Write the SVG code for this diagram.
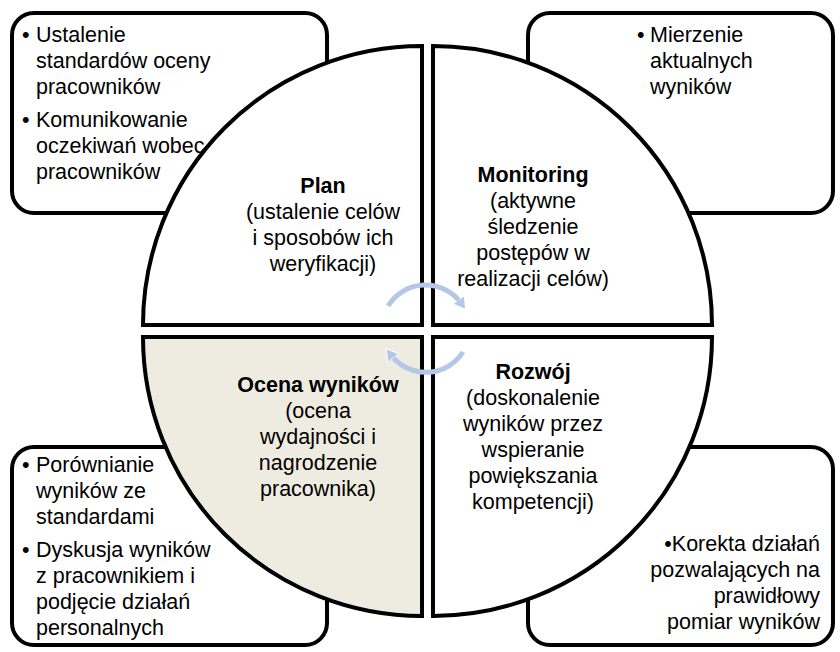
<svg xmlns="http://www.w3.org/2000/svg" width="840" height="652" viewBox="0 0 840 652">
<style>
.box{fill:#fff;stroke:#000;stroke-width:4}
.q{fill:#fff;stroke:#000;stroke-width:4;stroke-linejoin:miter}
.t{font-family:"Liberation Sans",Arial,sans-serif;font-size:21.5px;fill:#000}
.b{font-weight:bold}
.c{text-anchor:middle}
.e{text-anchor:end}
.arr{fill:none;stroke:#b4c7e7;stroke-width:5}
</style>
<defs>
<marker id="ah" markerUnits="userSpaceOnUse" markerWidth="16" markerHeight="16" refX="4" refY="8" orient="auto">
<path d="M0,1 L12,8 L0,15 Z" fill="#b4c7e7" stroke="#fff" stroke-width="1"/>
</marker>
</defs>
<rect width="840" height="652" fill="#fff"/>
<g id="box-tl">
<rect class="box" x="12" y="13" width="315" height="200" rx="22"/>
<text class="t" x="22" y="42">•</text>
<text class="t" x="36" y="42">Ustalenie</text>
<text class="t" x="36" y="68">standardów oceny</text>
<text class="t" x="36" y="94">pracowników</text>
<text class="t" x="22" y="127">•</text>
<text class="t" x="36" y="127">Komunikowanie</text>
<text class="t" x="36" y="153">oczekiwań wobec</text>
<text class="t" x="36" y="179">pracowników</text>
</g>
<g id="box-tr">
<rect class="box" x="528" y="13" width="305" height="200" rx="22"/>
<text class="t" x="637" y="42">•</text>
<text class="t" x="650" y="42">Mierzenie</text>
<text class="t" x="650" y="68">aktualnych</text>
<text class="t" x="650" y="94">wyników</text>
</g>
<g id="box-bl">
<rect class="box" x="12" y="447" width="315" height="198" rx="22"/>
<text class="t" x="22" y="472">•</text>
<text class="t" x="36" y="472">Porównianie</text>
<text class="t" x="36" y="498">wyników ze</text>
<text class="t" x="36" y="524">standardami</text>
<text class="t" x="22" y="557">•</text>
<text class="t" x="36" y="557">Dyskusja wyników</text>
<text class="t" x="36" y="583">z pracownikiem i</text>
<text class="t" x="36" y="609">podjęcie działań</text>
<text class="t" x="36" y="635">personalnych</text>
</g>
<g id="box-br">
<rect class="box" x="528" y="447" width="305" height="198" rx="22"/>
<text class="t e" x="820" y="551">•Korekta działań</text>
<text class="t e" x="820" y="577">pozwalających na</text>
<text class="t e" x="820" y="603">prawidłowy</text>
<text class="t e" x="820" y="629">pomiar wyników</text>
</g>
<g id="q-plan">
<path class="q" d="M422,325 L143,325 A279,279 0 0 1 422,46 Z"/>
<text class="t c b" x="323" y="193">Plan</text>
<text class="t c" x="323" y="219">(ustalenie celów</text>
<text class="t c" x="323" y="245">i sposobów ich</text>
<text class="t c" x="323" y="271">weryfikacji)</text>
</g>
<g id="q-monitoring">
<path class="q" d="M433,325 L433,46 A279,279 0 0 1 712,325 Z"/>
<text class="t c b" x="533" y="182">Monitoring</text>
<text class="t c" x="533" y="208">(aktywne</text>
<text class="t c" x="533" y="234">śledzenie</text>
<text class="t c" x="533" y="260">postępów w</text>
<text class="t c" x="533" y="286">realizacji celów)</text>
</g>
<g id="q-rozwoj">
<path class="q" d="M433,337 L712,337 A279,279 0 0 1 433,616 Z"/>
<text class="t c b" x="533" y="379">Rozwój</text>
<text class="t c" x="533" y="405">(doskonalenie</text>
<text class="t c" x="533" y="431">wyników przez</text>
<text class="t c" x="533" y="457">wspieranie</text>
<text class="t c" x="533" y="483">powiększania</text>
<text class="t c" x="533" y="509">kompetencji)</text>
</g>
<g id="q-ocena">
<path class="q" d="M422,337 L422,616 A279,279 0 0 1 143,337 Z" style="fill:#eeece1"/>
<text class="t c b" x="318" y="392">Ocena wyników</text>
<text class="t c" x="318" y="418">(ocena</text>
<text class="t c" x="318" y="444">wydajności i</text>
<text class="t c" x="318" y="470">nagrodzenie</text>
<text class="t c" x="318" y="496">pracownika)</text>
</g>
<g id="connectors">
<path class="arr" d="M388,306 A44,44 0 0 1 461,303" marker-end="url(#ah)"/>
<path class="arr" d="M463,352 A44,44 0 0 1 391,355" marker-end="url(#ah)"/>
</g>
</svg>
